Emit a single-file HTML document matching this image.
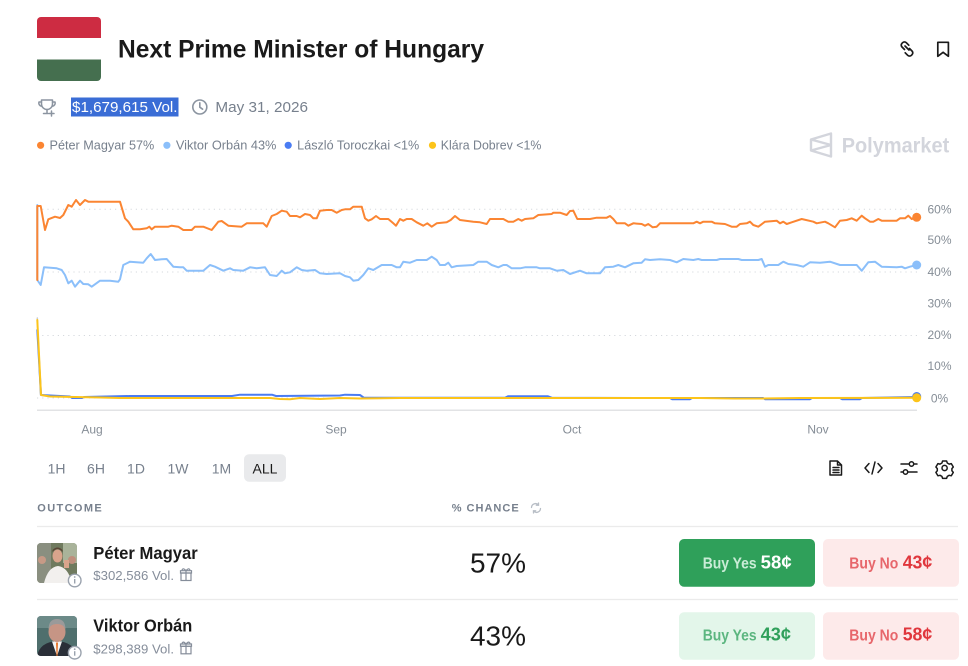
<!DOCTYPE html>
<html><head><meta charset="utf-8"><style>
html,body{margin:0;padding:0;background:#fff;}
svg{display:block;font-family:"Liberation Sans","Noto Sans CJK JP",sans-serif;}
</style></head><body>
<svg width="968" height="666" viewBox="0 0 968 666" xmlns="http://www.w3.org/2000/svg">
<defs>
<clipPath id="flagc"><rect x="37" y="17" width="64" height="64" rx="4"/></clipPath>
<clipPath id="av1"><rect x="37" y="543" width="40" height="40" rx="4"/></clipPath>
<clipPath id="av2"><rect x="37" y="616" width="40" height="40" rx="4"/></clipPath>
</defs>
<rect width="968" height="666" fill="#fff"/>

<!-- Flag -->
<g clip-path="url(#flagc)">
<rect x="37" y="17" width="64" height="21" fill="#cd2c42"/>
<rect x="37" y="38" width="64" height="22" fill="#ffffff"/>
<rect x="37" y="59.5" width="64" height="22" fill="#456f4f"/>
</g>

<!-- Title -->
<text x="118" y="57.5" font-size="25" font-weight="600" fill="#1a1a1a" textLength="366" lengthAdjust="spacingAndGlyphs">Next Prime Minister of Hungary</text>

<!-- link icon -->
<g fill="none" stroke="#1a1a1a" stroke-width="1.7" stroke-linecap="round">
<path d="M904.5,49.5 l-2.5,-2.5 a2.6,2.6 0 0 1 0,-3.7 l0.6,-0.6 a2.6,2.6 0 0 1 3.7,0 l2.5,2.5"/>
<path d="M909.5,48.5 l2.5,2.5 a2.6,2.6 0 0 1 0,3.7 l-0.6,0.6 a2.6,2.6 0 0 1 -3.7,0 l-2.5,-2.5"/>
<path d="M905,46 l4,4"/>
</g>
<!-- bookmark -->
<path d="M937.8,42.3 h10.6 v14 l-5.3,-4 l-5.3,4 z" fill="none" stroke="#1a1a1a" stroke-width="1.7" stroke-linejoin="round"/>

<!-- trophy -->
<g fill="none" stroke="#8b94a0" stroke-width="1.5" stroke-linejoin="round" stroke-linecap="round">
<path d="M41.5,100 h11 v4 a5.5,5.5 0 0 1 -11,0 z"/>
<path d="M41.5,102 h-2.5 a2.5,3 0 0 0 2.8,4"/>
<path d="M52.5,102 h2.5 a2.5,3 0 0 1 -2.8,4"/>
<path d="M47,109.5 v3 M43.5,113.5 h4.5"/>
<path d="M51.5,111 v5 M49,113.5 h5"/>
</g>

<!-- volume highlight -->
<rect x="71" y="97.5" width="107.5" height="19" fill="#3a6dd6"/>
<text x="72" y="112" font-size="15" fill="#ffffff" textLength="105.5" lengthAdjust="spacingAndGlyphs">$1,679,615 Vol.</text>

<!-- clock -->
<circle cx="199.8" cy="107" r="7" fill="none" stroke="#8b94a0" stroke-width="1.6"/>
<path d="M199.8,102.8 v4.4 l2.8,2" fill="none" stroke="#8b94a0" stroke-width="1.6" stroke-linecap="round"/>
<text x="215.4" y="112" font-size="15" fill="#77808d" textLength="92.6" lengthAdjust="spacingAndGlyphs">May 31, 2026</text>

<!-- Legend -->
<g font-size="12.5" fill="#77808d">
<circle cx="40.6" cy="145.3" r="3.6" fill="#fb8532"/>
<text x="49.5" y="149.3" textLength="104.8" lengthAdjust="spacingAndGlyphs">Péter Magyar 57%</text>
<circle cx="166.9" cy="145.3" r="3.6" fill="#8bbffa"/>
<text x="175.9" y="149.3" textLength="100.5" lengthAdjust="spacingAndGlyphs">Viktor Orbán 43%</text>
<circle cx="288.2" cy="145.3" r="3.6" fill="#4a7cf3"/>
<text x="297.2" y="149.3" textLength="122" lengthAdjust="spacingAndGlyphs">László Toroczkai &lt;1%</text>
<circle cx="432.5" cy="145.3" r="3.6" fill="#fcc41a"/>
<text x="440.8" y="149.3" textLength="100.5" lengthAdjust="spacingAndGlyphs">Klára Dobrev &lt;1%</text>
</g>

<!-- Polymarket logo -->
<g fill="none" stroke="#d3d5dc" stroke-width="2.4" stroke-linejoin="round">
<path d="M831,133.5 L811,139.5 L811,150.5 L831,156.5 Z M811,139.5 L831,145 L811,150.5"/>
</g>
<text x="841.7" y="152.7" font-size="21" font-weight="600" fill="#d3d5dc" textLength="107.6" lengthAdjust="spacingAndGlyphs">Polymarket</text>

<!-- Chart grid -->
<g stroke="#d6d9de" stroke-width="1" stroke-dasharray="1.2,4">
<line x1="37" y1="209.3" x2="918" y2="209.3"/>
<line x1="37" y1="272" x2="918" y2="272"/>
<line x1="37" y1="335.5" x2="918" y2="335.5"/>
<line x1="37" y1="398" x2="918" y2="398"/>
</g>
<line x1="37" y1="410.3" x2="917" y2="410.3" stroke="#e2e3e5" stroke-width="1.5"/>

<!-- Y labels -->
<g font-size="12" fill="#858d96" text-anchor="middle">
<text x="939.5" y="213.5">60%</text>
<text x="939.5" y="244.2">50%</text>
<text x="939.5" y="275.9">40%</text>
<text x="939.5" y="307.5">30%</text>
<text x="939.5" y="339.2">20%</text>
<text x="939.5" y="369.9">10%</text>
<text x="939.5" y="402.5">0%</text>
</g>

<!-- X labels -->
<g font-size="12" fill="#858d96" text-anchor="middle">
<text x="92" y="433.5">Aug</text>
<text x="336" y="433.5">Sep</text>
<text x="572" y="433.5">Oct</text>
<text x="818" y="433.5">Nov</text>
</g>

<!-- Series -->
<g fill="none" stroke-width="2" stroke-linejoin="round" stroke-linecap="round">
<path stroke="#c8ccd2" stroke-width="1.5" d="M37.3,318 L40.5,395 L60,396.5"/>
<path stroke="#4a7cf3" d="M37.3,330 L41,395 L70,396.5 L72,398 L82,398 L84,397 L130,396 L232,396 L240,394.7 L272,394.7 L276,396 L340,395.5 L345,394.7 L360,395 L364,397.8 L505,397.8 L508,396.3 L548,396.3 L552,397.8 L670,398 L672,399.2 L690,399.2 L692,398 L763,398 L765,399.2 L810,399.2 L812,398 L840,398 L842,399.2 L860,399.2 L862,398 L916.7,397"/>
<path stroke="#fcc41a" d="M37.3,320 L41,395 L50,396.5 L100,397.5 L120,398 L270,398 L280,399 L290,399.3 L300,398 L320,399 L340,398 L360,398.5 L400,398 L660,398 L700,398 L735,398.5 L760,398.5 L800,398 L917,397.8"/>
<path stroke="#8bbffa" d="M37.3,205 L37.3,280 L40.7,285 L44,267.3 L56.7,268.3 L61.7,270 L65,275 L68.3,283.3 L71.7,280.7 L75,286.7 L80,280.7 L83.3,284 L88.3,284.3 L91.7,286.7 L100,280.7 L110,280.7 L118.3,281.7 L120,279.3 L123.3,265 L130,261.7 L143.3,262.7 L146.7,258.3 L150.7,254 L155,260 L161.7,259.3 L166.7,259 L173.3,266.7 L180,267.3 L183.3,267.3 L186.7,270.7 L203.3,270.7 L210,265 L215,266.7 L223.3,270.7 L230,268.3 L233.3,270 L243.3,270.7 L250,267.3 L256.7,268.3 L265,267.3 L270,275 L276.7,276 L281.7,270.7 L285,273.3 L290,272.3 L296.7,267.3 L301.7,270 L306.7,270.7 L315,270 L320,273.3 L326.7,274 L340,273.3 L345,276 L350,277.3 L353.3,280.7 L358.3,280 L363.3,275 L368.3,268.3 L373.3,270 L381.7,265 L391.7,265 L396.7,267.3 L400,267.3 L403.3,261.7 L410,262.7 L416.7,260 L426.7,260 L431.7,256.7 L436.7,260 L440,265 L445,265 L448.3,262.7 L451.7,267.3 L456.7,266 L473.3,265 L478.3,261.7 L486.7,261.7 L491.7,265 L498.3,267.3 L503.3,265 L506.7,265 L511.7,268.3 L520,268.3 L525,267.3 L536.7,267.3 L540,268.3 L550,268.3 L556.7,270.7 L563.3,270 L570,274 L580,270.7 L586.7,273.3 L600,273.3 L605,267.3 L613.3,266.7 L618.3,265 L625,267.3 L633.3,263.3 L641.7,262.7 L645,259.3 L650,260 L660,259.3 L670,260 L676.7,262.3 L683.3,259 L693.3,260 L698.3,259 L701.7,260 L716.7,260 L720,259 L738.3,259 L741.7,260 L758.3,260 L761.7,259 L765,266.7 L768.3,265 L778.3,265 L783.3,261.7 L788.3,264 L796.7,265 L803.3,266.7 L810,262.3 L820,262.7 L830,261.7 L840,265 L856.7,265 L861.7,270.7 L868.3,262.3 L875,261.7 L881.7,266.7 L896.7,267.3 L901.7,266.7 L905,268.3 L910,266.7 L916.7,265"/>
<path stroke="#fb8532" d="M37.3,280 L37.3,206 L40.7,206 L45,230 L48.3,219.3 L55,216.7 L60,218 L63.3,215 L68.3,205 L71.7,206.7 L76,200 L80,205 L85,200 L88.3,201.7 L120,201.7 L125,218.3 L128.3,221.7 L133.3,229.3 L140,229.3 L146.7,228.3 L149.3,226.7 L151.7,229.3 L155,226.7 L168.3,226.7 L171.7,225.7 L178.3,226.7 L183.3,230 L191.7,230 L195,226.7 L203.3,226.7 L211.7,230 L218.3,221.7 L221.7,221 L228.3,225.7 L241.7,226.7 L246.7,223.3 L263.3,223.3 L266.7,226.7 L271.7,216 L276.7,214 L281.7,210.7 L286.7,211.7 L290,216 L296.7,216 L300,217.3 L305,214 L310,215 L313.3,218.3 L316.7,218.3 L320,210.7 L326.7,210 L331.7,210 L336.7,212.7 L341.7,210 L345,209.3 L350,209.3 L353.3,206.7 L361.7,206.7 L365,218.3 L368.3,220.7 L371.7,219.3 L376,216 L380,219 L388.3,219 L393.3,223.3 L396,225.7 L400,219 L403.3,220.7 L406.7,219 L411.7,219 L416.7,222.3 L423.3,225.7 L427.3,223.3 L431.7,226.7 L436.7,223.3 L446.7,222.3 L450.7,220 L455,216 L460,220 L473.3,221.7 L480,222.3 L486.7,224 L490,219 L503.3,219 L508.3,221.7 L513.3,221.7 L518.3,219 L521.7,220.7 L525,219 L533.3,218.3 L538.3,215 L551.7,214 L553.3,212.7 L560,212.7 L566.7,215 L570,211 L573.3,210.7 L577.3,219 L590,219 L596.7,217.7 L606.7,217.7 L610,216 L613.3,219 L616.7,223.3 L625,223.3 L628.3,225.7 L633.3,223.3 L641.7,224 L645,225.7 L648.3,224 L652.7,227.3 L656.7,226.7 L660,223.3 L693.3,223.3 L696.7,221.7 L700,223.3 L703.3,221.7 L711.7,221.7 L715,223.3 L725,224 L731.7,226.7 L736.7,226.7 L740,224 L746.7,223.3 L750,221.7 L753.3,225 L758.3,226.7 L765,221.7 L776.7,220.7 L780,223.3 L783.3,221.7 L786.7,224 L791.7,222.3 L801.7,219 L813.3,221.7 L816.7,223.3 L821.7,222.3 L825,221.7 L828.3,223.3 L835,227.3 L840,220.7 L846.7,220 L851.7,218.3 L856.7,220.7 L861.7,215.7 L865,218.3 L870,221.7 L873.3,221.7 L878.3,219 L881.7,220.7 L896.7,220.7 L900,218.3 L905,218.3 L908.3,215.7 L911.7,219 L916.7,217.3"/>
</g>
<circle cx="916.7" cy="217.3" r="4.5" fill="#fb8532"/>
<circle cx="916.7" cy="265" r="4.5" fill="#8bbffa"/>
<circle cx="916.7" cy="396.5" r="4.5" fill="#4a7cf3"/>
<circle cx="916.7" cy="397.8" r="4.5" fill="#fcc41a"/>

<!-- Timeframe -->
<rect x="244" y="454.3" width="42" height="27.4" rx="5" fill="#e9eaec"/>
<g font-size="14" fill="#77808d" text-anchor="middle">
<text x="56.6" y="473.5">1H</text>
<text x="96" y="473.5">6H</text>
<text x="136" y="473.5">1D</text>
<text x="178" y="473.5">1W</text>
<text x="221.5" y="473.5">1M</text>
<text x="265" y="473.5" fill="#1a1a1a">ALL</text>
</g>

<!-- right icons -->
<g fill="none" stroke="#1a1a1a" stroke-width="1.5" stroke-linejoin="round" stroke-linecap="round">
<path d="M830,461 h7.5 l4,4 v10 h-11.5 z M837.5,461 v4 h4 M833,467.5 h6 M833,470 h6 M833,472.5 h6"/>
<path d="M869,463.5 l-4,4.5 l4,4.5 M878,463.5 l4,4.5 l-4,4.5 M875,462 l-3,12"/>
<path d="M901,464 h16 M901,472 h16"/>
<circle cx="911.5" cy="464" r="2.2" fill="#fff"/>
<circle cx="905.5" cy="472" r="2.2" fill="#fff"/>
<circle cx="944.6" cy="468" r="2.6"/>
<path d="M942.6,461 h4 l0.7,2 l1.9,1.1 l2.1,-0.5 l2,3.4 l-1.4,1.6 v2.2 l1.4,1.6 l-2,3.4 l-2.1,-0.5 l-1.9,1.1 l-0.7,2 h-4 l-0.7,-2 l-1.9,-1.1 l-2.1,0.5 l-2,-3.4 l1.4,-1.6 v-2.2 l-1.4,-1.6 l2,-3.4 l2.1,0.5 l1.9,-1.1 z"/>
</g>

<!-- Table header -->
<text x="37.3" y="511.6" font-size="11" font-weight="600" fill="#77808d" textLength="64.4" lengthAdjust="spacing">OUTCOME</text>
<text x="451.7" y="511.6" font-size="11" font-weight="600" fill="#77808d" textLength="67" lengthAdjust="spacing">% CHANCE</text>
<g fill="none" stroke="#b8bec6" stroke-width="1.3" stroke-linecap="round">
<path d="M531.5,507.5 a4,4 0 0 1 7,-2.5 M540.5,508.5 a4,4 0 0 1 -7,2.5"/>
<path d="M538.5,503 v2.2 h-2.2 M533.5,513 v-2.2 h2.2"/>
</g>
<line x1="37" y1="526.5" x2="958" y2="526.5" stroke="#ebebeb" stroke-width="1.2"/>
<line x1="37" y1="599.5" x2="958" y2="599.5" stroke="#ebebeb" stroke-width="1.2"/>

<!-- Row 1 avatar -->
<g clip-path="url(#av1)">
<rect x="37" y="543" width="40" height="40" fill="#6f7a5e"/>
<rect x="37" y="543" width="14" height="40" fill="#8a8f80"/>
<rect x="63" y="543" width="14" height="20" fill="#a9b39a"/>
<circle cx="42" cy="560" r="4" fill="#c79a86"/>
<circle cx="72" cy="560" r="4" fill="#bf8f7d"/>
<path d="M44,583 q4,-16 14,-17 q10,1 14,17 z" fill="#f2f0ee"/>
<ellipse cx="57.5" cy="556" rx="5" ry="6.5" fill="#d9a48c"/>
<path d="M52.5,552 q5,-6 10,0 v-2 q-5,-5 -10,0 z" fill="#5a4535"/>
<rect x="64" y="560" width="5" height="8" fill="#d9a48c"/>
</g>
<circle cx="74.7" cy="580.5" r="6.3" fill="#fff" stroke="#9aa2ad" stroke-width="1.4"/>
<path d="M74.7,579 v4.5" stroke="#9aa2ad" stroke-width="1.4"/>
<circle cx="74.7" cy="577" r="0.9" fill="#9aa2ad"/>

<text x="93.3" y="558.8" font-size="17.5" font-weight="600" fill="#1a1a1a" textLength="104.4" lengthAdjust="spacingAndGlyphs">Péter Magyar</text>
<text x="93.3" y="580" font-size="12.5" fill="#858d9a" textLength="80.7" lengthAdjust="spacingAndGlyphs">$302,586 Vol.</text>
<g fill="none" stroke="#858d9a" stroke-width="1.2">
<rect x="181" y="573" width="10" height="7.5"/>
<path d="M180.5,573 h11 v-2.3 h-11 z M186,570.7 v9.8 M186,570.7 q-3,-3.5 -4,-0.5 M186,570.7 q3,-3.5 4,-0.5"/>
</g>

<text x="498" y="572.3" font-size="28" fill="#1a1a1a" text-anchor="middle" textLength="56" lengthAdjust="spacingAndGlyphs">57%</text>

<rect x="679" y="539" width="136" height="47.7" rx="5" fill="#2fa05a"/>
<text x="702.7" y="568.3" font-size="15.5" font-weight="600" fill="#c9ecd6" textLength="54" lengthAdjust="spacingAndGlyphs">Buy Yes</text>
<text x="760.7" y="568.3" font-size="18" font-weight="700" fill="#ffffff" textLength="31" lengthAdjust="spacingAndGlyphs">58¢</text>
<rect x="823" y="539" width="136" height="47.7" rx="5" fill="#fdeaea"/>
<text x="849.3" y="568.3" font-size="15.5" font-weight="600" fill="#e7666b" textLength="49" lengthAdjust="spacingAndGlyphs">Buy No</text>
<text x="902.7" y="568.3" font-size="18" font-weight="700" fill="#e0373d" textLength="29.6" lengthAdjust="spacingAndGlyphs">43¢</text>

<!-- Row 2 avatar -->
<g clip-path="url(#av2)">
<rect x="37" y="616" width="40" height="40" fill="#4f6f6d"/>
<rect x="37" y="616" width="40" height="12" fill="#6c8a88"/>
<path d="M37,656 q3,-14 20,-15 q17,1 20,15 z" fill="#2a2f38"/>
<path d="M52,641.5 l5,14.5 l5,-14.5 z" fill="#f4f4f4"/>
<path d="M56,643 l1,-1 l1,1 l-0.5,13 h-1 z" fill="#e8772e"/>
<ellipse cx="57" cy="632" rx="8.5" ry="10" fill="#c69585"/>
<path d="M48.5,630 q0,-11 8.5,-11 q8.5,0 8.5,11 q-1.5,-6 -8.5,-6 q-7,0 -8.5,6 z" fill="#9a9a9a"/>
</g>
<circle cx="74.7" cy="652.7" r="6.3" fill="#fff" stroke="#9aa2ad" stroke-width="1.4"/>
<path d="M74.7,651.2 v4.5" stroke="#9aa2ad" stroke-width="1.4"/>
<circle cx="74.7" cy="649.2" r="0.9" fill="#9aa2ad"/>

<text x="93.3" y="631.5" font-size="17.5" font-weight="600" fill="#1a1a1a" textLength="99" lengthAdjust="spacingAndGlyphs">Viktor Orbán</text>
<text x="93.3" y="653.3" font-size="12.5" fill="#858d9a" textLength="80.7" lengthAdjust="spacingAndGlyphs">$298,389 Vol.</text>
<g fill="none" stroke="#858d9a" stroke-width="1.2">
<rect x="181" y="646.3" width="10" height="7.5"/>
<path d="M180.5,646.3 h11 v-2.3 h-11 z M186,644 v9.8 M186,644 q-3,-3.5 -4,-0.5 M186,644 q3,-3.5 4,-0.5"/>
</g>

<text x="498" y="645.7" font-size="28" fill="#1a1a1a" text-anchor="middle" textLength="56" lengthAdjust="spacingAndGlyphs">43%</text>

<rect x="679" y="612.3" width="136" height="47.4" rx="5" fill="#e3f6ea"/>
<text x="702.7" y="640.7" font-size="15.5" font-weight="600" fill="#5cb680" textLength="54" lengthAdjust="spacingAndGlyphs">Buy Yes</text>
<text x="760.7" y="640.7" font-size="18" font-weight="700" fill="#30a05b" textLength="30.3" lengthAdjust="spacingAndGlyphs">43¢</text>
<rect x="823" y="612.3" width="136" height="47.4" rx="5" fill="#fdeaea"/>
<text x="849.3" y="640.7" font-size="15.5" font-weight="600" fill="#e7666b" textLength="49" lengthAdjust="spacingAndGlyphs">Buy No</text>
<text x="902.7" y="640.7" font-size="18" font-weight="700" fill="#e0373d" textLength="29.6" lengthAdjust="spacingAndGlyphs">58¢</text>
</svg>
</body></html>
